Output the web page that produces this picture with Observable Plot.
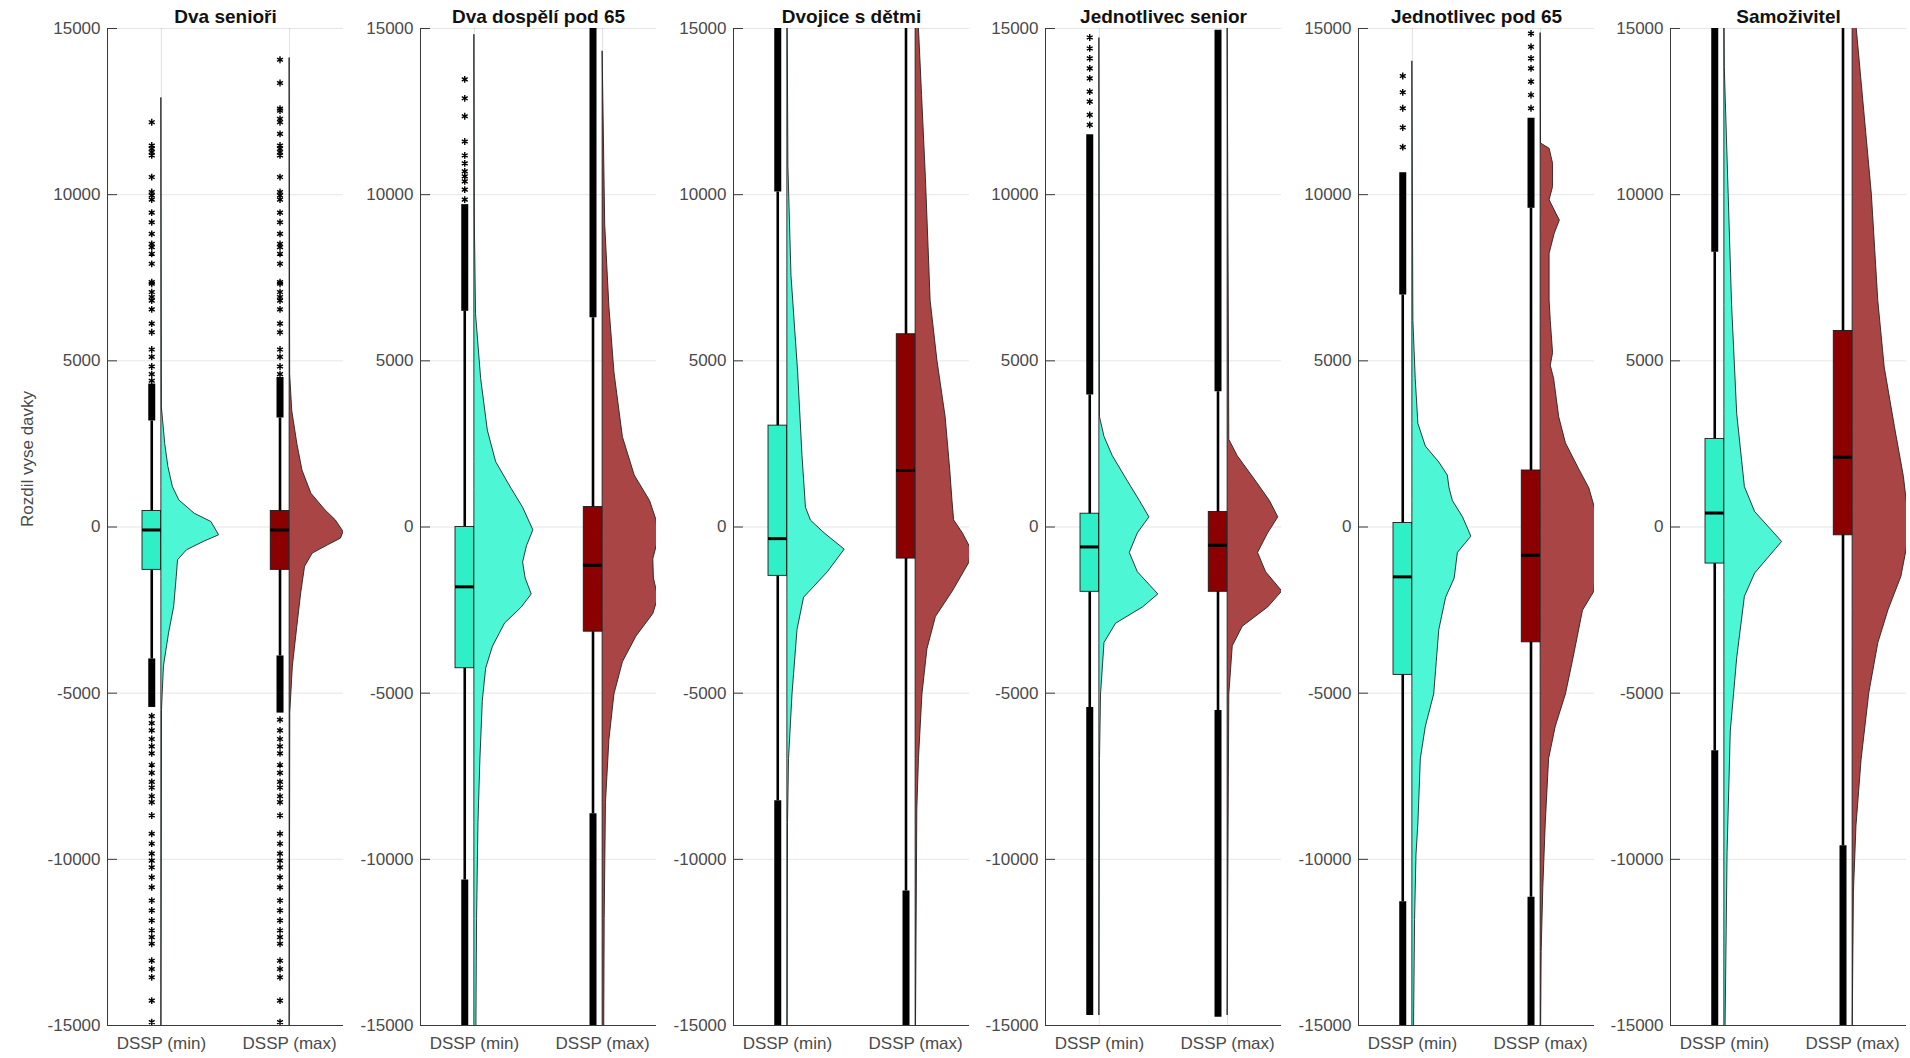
<!DOCTYPE html>
<html><head><meta charset="utf-8">
<script src="https://cdn.jsdelivr.net/npm/d3@7"></script>
<script src="https://cdn.jsdelivr.net/npm/@observablehq/plot@0.6"></script>
<style>
body{margin:0;background:#fff;font-family:"Liberation Sans",Arial,sans-serif;}
#chart{position:relative;width:1910px;height:1058px;overflow:hidden;}
#chart .p{position:absolute;top:0;}
</style></head><body><div id="chart"></div>
<script>
const panels = ["Dva senioři", "Dva dospělí pod 65", "Dvojice s dětmi", "Jednotlivec senior", "Jednotlivec pod 65", "Samoživitel"];
const groups = ["DSSP (min)", "DSSP (max)"];
const yTicks = [-15000, -10000, -5000, 0, 5000, 10000, 15000];
const yLabel = "Rozdil vyse davky";

// box statistics
const minQ1 = [-1290, -4250, -1470, -1950, -4450, -1100];
const minMed = [-90, -1800, -350, -600, -1500, 420];
const minQ3 = [480, 0, 3050, 400, 120, 2650];
const maxQ1 = [-1290, -3150, -950, -1950, -3470, -250];
const maxMed = [-90, -1150, 1700, -550, -850, 2100];
const maxQ3 = [480, 600, 5800, 450, 1700, 5900];

// whisker ends
const minWhiskerLo = [-3970, -10620, -8240, -5430, -11280, -6730];
const minWhiskerHi = [3190, 6490, 10080, 3970, 6980, 8270];
const maxWhiskerLo = [-3880, -8630, -10950, -5520, -11140, -9590];
const maxWhiskerHi = [3280, 6300, 15500, 4070, 9590, 15500];

// dense outlier runs [from, to]
const minBandHi = [[3190, 4300], [6490, 9700], [10080, 15500], [3970, 11800], [6980, 10660], [8270, 15500]];
const minBandLo = [[-5430, -3970], [-15500, -10620], [-15500, -8240], [-14700, -5430], [-15500, -11280], [-15500, -6730]];
const maxBandHi = [[3280, 4500], [6300, 15200], null, [4070, 14950], [9590, 12300], null];
const maxBandLo = [[-5600, -3880], [-15500, -8630], [-15500, -10950], [-14750, -5520], [-15500, -11140], [-15500, -9590]];

// separate outliers
const minSparse = [
  [12180, 11480, 11380, 11280, 11180, 10530, 10080, 9980, 9850, 9460, 9170, 8820, 8520, 8420, 8220, 7920, 7370, 7320, 7070, 6920, 6810, 6550, 6120, 5860, 5340, 5120, 4830, 4600, 4400,
   -5690, -5900, -6120, -6380, -6600, -6810, -7160, -7400, -7670, -7840, -8100, -8280, -8680, -9230, -9530, -9830, -10040, -10240, -10540, -10840, -11240, -11540, -11840, -12140, -12340, -12540, -13050, -13300, -13550, -14250, -14900],
  [9850, 10150, 10400, 10550, 10700, 10940, 11180, 11600, 12360, 12900, 13470],
  [],
  [12100, 12400, 12800, 13100, 13500, 13800, 14100, 14400, 14730],
  [11430, 12020, 12600, 13080, 13570],
  []
];
const maxSparse = [
  [14060, 13360, 12590, 12530, 12280, 12180, 11830, 11480, 11380, 11280, 11180, 10530, 10080, 9980, 9850, 9460, 9170, 8820, 8520, 8420, 8220, 7920, 7370, 7320, 7070, 6920, 6810, 6550, 6120, 5860, 5340, 5120, 4830, 4600,
   -5800, -6120, -6380, -6600, -6810, -7160, -7400, -7670, -7840, -8100, -8280, -8680, -9230, -9530, -9830, -10040, -10240, -10540, -10840, -11240, -11540, -11840, -12140, -12340, -12540, -13050, -13300, -13550, -14250, -14900],
  [],
  [],
  [],
  [12600, 13000, 13400, 13800, 14100, 14450, 14850],
  []
];

// half-violin profiles: [value, half width in category units]
const minViolin = [
  [[12900,0],[3600,0.004],[2500,0.03],[1800,0.055],[1200,0.09],[800,0.14],[400,0.26],[150,0.39],[-250,0.45],[-450,0.33],[-700,0.2],[-1000,0.13],[-1500,0.12],[-2400,0.10],[-3200,0.06],[-4200,0.02],[-5500,0.005],[-15500,0]],
  [[14800,0],[9100,0.004],[6400,0.013],[4450,0.053],[2900,0.105],[1950,0.17],[1150,0.29],[580,0.38],[-100,0.46],[-580,0.41],[-1070,0.38],[-1550,0.40],[-2030,0.447],[-2420,0.37],[-2900,0.24],[-3600,0.145],[-4260,0.092],[-5230,0.066],[-7000,0.047],[-8900,0.032],[-11800,0.021],[-15500,0.015]],
  [[15500,0.002],[10850,0.008],[7560,0.032],[4650,0.084],[2130,0.118],[580,0.145],[190,0.184],[-190,0.29],[-680,0.447],[-1360,0.316],[-2130,0.13],[-3100,0.079],[-5040,0.04],[-6980,0.013],[-8900,0.005],[-15500,0.002]],
  [[14700,0],[3300,0.005],[2710,0.04],[2130,0.105],[1360,0.224],[780,0.316],[290,0.39],[-190,0.30],[-780,0.237],[-1360,0.30],[-2030,0.46],[-2420,0.34],[-2910,0.13],[-3490,0.04],[-5040,0.013],[-6980,0.005],[-14700,0]],
  [[14000,0],[10850,0.003],[6200,0.008],[4460,0.026],[3100,0.047],[2420,0.105],[1940,0.21],[1550,0.276],[1160,0.29],[780,0.316],[290,0.395],[-290,0.46],[-780,0.355],[-1550,0.33],[-2130,0.263],[-3100,0.21],[-4070,0.19],[-5040,0.17],[-6010,0.105],[-6980,0.066],[-8920,0.047],[-9880,0.032],[-11820,0.021],[-15500,0.012]],
  [[15500,0],[13840,0.003],[8320,0.047],[6680,0.06],[3400,0.1],[1200,0.16],[450,0.24],[-450,0.45],[-1400,0.24],[-2100,0.16],[-3950,0.1],[-6150,0.05],[-9800,0.025],[-15500,0.008]]
];
const maxViolin = [
  [[14100,0],[4600,0.004],[3500,0.02],[2500,0.06],[1700,0.1],[1000,0.17],[500,0.28],[200,0.36],[-150,0.42],[-350,0.40],[-550,0.3],[-800,0.18],[-1200,0.12],[-2000,0.09],[-3000,0.06],[-4200,0.025],[-5600,0.005],[-15500,0]],
  [[14300,0],[9100,0.02],[6600,0.053],[4650,0.092],[2700,0.158],[1550,0.25],[780,0.37],[200,0.42],[-390,0.434],[-970,0.395],[-1550,0.40],[-2130,0.434],[-2620,0.395],[-3300,0.263],[-4070,0.158],[-5040,0.092],[-6400,0.053],[-8300,0.026],[-11800,0.016],[-15500,0.012]],
  [[15500,0.02],[13000,0.05],[10500,0.08],[8500,0.10],[6800,0.117],[5000,0.17],[3300,0.234],[1700,0.27],[800,0.287],[200,0.30],[-200,0.37],[-650,0.43],[-1070,0.42],[-1940,0.29],[-2710,0.158],[-3680,0.092],[-5040,0.053],[-6980,0.026],[-8530,0.013],[-15500,0.002]],
  [[15000,0],[2620,0.013],[2130,0.079],[1360,0.224],[780,0.33],[290,0.395],[-190,0.316],[-780,0.237],[-1360,0.30],[-1940,0.426],[-2420,0.316],[-3000,0.118],[-3590,0.04],[-5040,0.013],[-14700,0]],
  [[14850,0],[11540,0.003],[11380,0.07],[10930,0.097],[10230,0.097],[9830,0.07],[9430,0.122],[9225,0.15],[8825,0.11],[8220,0.07],[6815,0.07],[6200,0.079],[5230,0.097],[4850,0.079],[4460,0.105],[3300,0.145],[2520,0.197],[1740,0.30],[1160,0.38],[480,0.43],[-190,0.43],[-1160,0.43],[-1940,0.42],[-2520,0.33],[-3300,0.29],[-4070,0.25],[-5040,0.197],[-6010,0.118],[-6980,0.066],[-8920,0.04],[-10850,0.021],[-12790,0.008],[-15000,0.004]],
  [[15500,0.02],[10000,0.15],[6800,0.2],[4800,0.25],[3000,0.33],[1500,0.4],[500,0.43],[-500,0.43],[-1500,0.38],[-2500,0.28],[-3500,0.2],[-5000,0.13],[-7000,0.07],[-9000,0.03],[-11000,0.01],[-13500,0.004],[-15500,0]]
];

const colors = {
  min: {box: "#2FEFC6", violin: "#4DF7D5"},
  max: {box: "#8B0000", violin: "#A94545"}
};

const xDomain = [0.58, 2.42];
const boxOff = 0.075, boxHalf = 0.072;
const axisX0 = [107, 420, 733, 1045, 1358, 1670];
const panelW = 236;

function groupMarks(i, key, base) {
  const isMin = key === "min";
  const q1 = (isMin ? minQ1 : maxQ1)[i], med = (isMin ? minMed : maxMed)[i], q3 = (isMin ? minQ3 : maxQ3)[i];
  const wLo = (isMin ? minWhiskerLo : maxWhiskerLo)[i], wHi = (isMin ? minWhiskerHi : maxWhiskerHi)[i];
  const bands = [(isMin ? minBandHi : maxBandHi)[i], (isMin ? minBandLo : maxBandLo)[i]].filter(d => d);
  const sparse = (isMin ? minSparse : maxSparse)[i];
  const prof = (isMin ? minViolin : maxViolin)[i].map(([v, w]) => ({v, x1: base, x2: base + w}));
  const cx = base - boxOff;
  const c = colors[key];
  return [
    Plot.areaX(prof, {y: "v", x1: "x1", x2: "x2", fill: c.violin, stroke: "#222", strokeWidth: 0.9, curve: "linear", clip: true}),
    Plot.ruleX([{lo: wLo, hi: wHi}], {x: () => cx, y1: "lo", y2: "hi", stroke: "black", strokeWidth: 2.6, clip: true}),
    Plot.ruleX(bands, {x: () => cx, y1: d => d[0], y2: d => d[1], stroke: "black", strokeWidth: 7, clip: true}),
    Plot.dot(sparse, {x: () => cx, y: d => d, symbol: "asterisk", r: 3.2, stroke: "black", strokeWidth: 1.4, clip: true}),
    Plot.rect([{q1, q3}], {x1: () => cx - boxHalf, x2: () => cx + boxHalf, y1: "q1", y2: "q3", fill: c.box, stroke: "#1a1a1a", strokeWidth: 0.9}),
    Plot.ruleY([med], {y: d => d, x1: () => cx - boxHalf, x2: () => cx + boxHalf, stroke: "black", strokeWidth: 3})
  ];
}

const root = document.getElementById("chart");
panels.forEach((title, i) => {
  const ml = i === 0 ? 107 : 77;
  const left = axisX0[i] - ml;
  const marks = [
    Plot.gridY(yTicks, {stroke: "#000", strokeOpacity: 0.1}),
    Plot.gridX([1, 2], {stroke: "#000", strokeOpacity: 0.12}),
    ...groupMarks(i, "min", 1),
    ...groupMarks(i, "max", 2),
    Plot.ruleX([xDomain[0]], {stroke: "#3a3a3a", strokeWidth: 1}),
    Plot.ruleY([-15000], {stroke: "#3a3a3a", strokeWidth: 1}),
    Plot.axisY(yTicks, {tickSize: -10, tickFormat: () => "", stroke: "#3a3a3a"}),
    Plot.axisY(yTicks, {tickSize: 0, tickPadding: 7, tickFormat: d => String(d), fontSize: 17, fill: "#4a4a4a"}),
    Plot.axisX([1, 2], {tickSize: 0, tickPadding: 11, tickFormat: d => groups[d - 1], fontSize: 17, fill: "#4a4a4a"}),
    Plot.text([title], {frameAnchor: "top", dy: -12, lineAnchor: "middle", fontWeight: "bold", fontSize: 19, fill: "#111"})
  ];
  if (i === 0) marks.push(Plot.text([yLabel], {frameAnchor: "left", dx: -80, rotate: -90, fontSize: 17, fill: "#4a4a4a"}));
  const svg = Plot.plot({
    width: ml + panelW,
    height: 1058,
    marginLeft: ml, marginRight: 0, marginTop: 28, marginBottom: 33,
    x: {domain: xDomain, label: null},
    y: {domain: [-15000, 15000], label: null},
    style: {fontFamily: "'Liberation Sans', Arial, sans-serif", fontSize: "17px", background: "transparent", overflow: "visible"},
    marks
  });
  const div = document.createElement("div");
  div.className = "p";
  div.style.left = left + "px";
  div.appendChild(svg);
  root.appendChild(div);
});
</script></body></html>
